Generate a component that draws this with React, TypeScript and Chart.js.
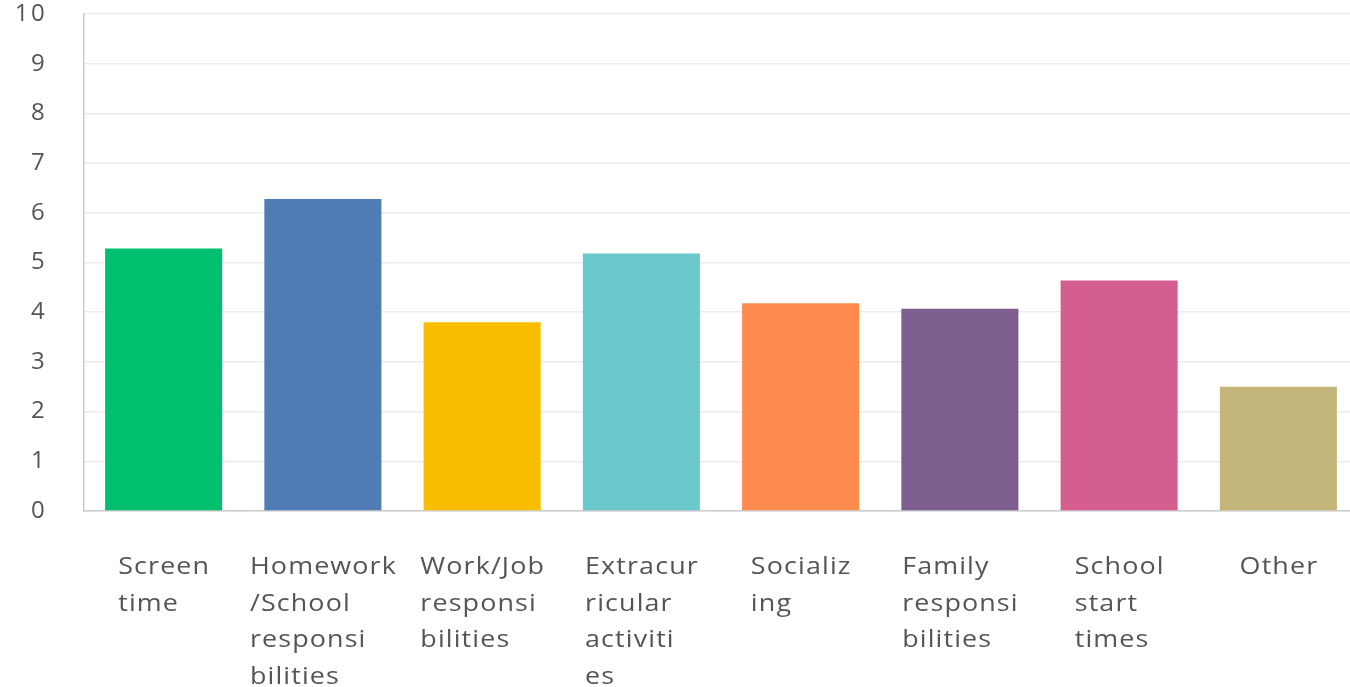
import React, { useEffect, useRef } from "react";
import { Chart, registerables } from "chart.js";

Chart.register(...registerables);

const categories = [
  "Screen time",
  "Homework/School responsibilities",
  "Work/Job responsibilities",
  "Extracurricular activities",
  "Socializing",
  "Family responsibilities",
  "School start times",
  "Other",
];

const labelLines = [
  ["Screen", "time"],
  ["Homework", "/School", "responsi", "bilities"],
  ["Work/Job", "responsi", "bilities"],
  ["Extracur", "ricular", "activiti", "es"],
  ["Socializ", "ing"],
  ["Family", "responsi", "bilities"],
  ["School", "start", "times"],
  ["Other"],
];

const values = [5.28, 6.28, 3.8, 5.18, 4.18, 4.07, 4.64, 2.5];

const barColors = [
  "#00BF6F",
  "#507CB6",
  "#F9BE00",
  "#6BC8CD",
  "#FF8B4F",
  "#7D5E8F",
  "#D45F8F",
  "#C4B67A",
];

const yTicks = [0, 1, 2, 3, 4, 5, 6, 7, 8, 9, 10];

const FONT = '"Open Sans", sans-serif';
const TEXT_COLOR = "#555555";
const Y_SPACING = 2.4;
const X_SPACING = 1;
const X_STRETCH = 1.12;

const labelPlugin = {
  id: "labels",
  beforeDraw(chart: any) {
    (chart.ctx as any).letterSpacing = Y_SPACING + "px";
  },
  afterDraw(chart: any) {
    const ctx = chart.ctx;
    const xScale = chart.scales.x;
    const area = chart.chartArea;
    ctx.save();
    ctx.font = `24px ${FONT}`;
    (ctx as any).letterSpacing = X_SPACING + "px";
    ctx.fillStyle = TEXT_COLOR;
    ctx.textAlign = "left";
    ctx.textBaseline = "alphabetic";
    labelLines.forEach((lines, i) => {
      const cx = xScale.getPixelForValue(i);
      const maxW =
        Math.max(...lines.map((l) => ctx.measureText(l).width - X_SPACING)) * X_STRETCH;
      const x0 = cx - maxW / 2;
      lines.forEach((line, j) => {
        ctx.save();
        ctx.translate(x0, area.bottom + 63 + j * 36.5);
        ctx.scale(X_STRETCH, 1);
        ctx.fillText(line, 0, 0);
        ctx.restore();
      });
    });
    ctx.restore();
  },
};

export default function App() {
  const canvasRef = useRef<HTMLCanvasElement | null>(null);

  useEffect(() => {
    if (!canvasRef.current) return;
    const chart = new Chart(canvasRef.current, {
      type: "bar",
      data: {
        labels: categories,
        datasets: [
          {
            data: values,
            backgroundColor: barColors,
            borderWidth: 0,
            categoryPercentage: 1,
            barPercentage: 0.735,
          },
        ],
      },
      options: {
        responsive: false,
        animation: false,
        layout: { padding: { top: 14, right: 2, bottom: 176, left: 0 } },
        plugins: {
          legend: { display: false },
          tooltip: { enabled: false },
        },
        scales: {
          x: {
            grid: { display: false },
            border: { display: true, color: "#cccccc", width: 1.5 },
            ticks: { display: false },
            afterFit: (scale: any) => {
              scale.height = 0;
              scale.paddingLeft = 0;
              scale.paddingRight = 0;
            },
          },
          y: {
            min: 0,
            max: 10,
            afterBuildTicks: (scale: any) => {
              scale.ticks = yTicks.map((v) => ({ value: v }));
            },
            afterFit: (scale: any) => {
              scale.width = 84;
              scale.paddingTop = 0;
              scale.paddingBottom = 0;
            },
            grid: { color: "#ececec", drawTicks: false, lineWidth: 1.5 },
            border: { display: true, color: "#cccccc", width: 1.5 },
            ticks: {
              padding: 37,
              color: TEXT_COLOR,
              font: { family: FONT, size: 24 },
            },
          },
        },
      },
      plugins: [labelPlugin],
    });
    return () => chart.destroy();
  }, []);

  return (
    <div
      style={{
        position: "fixed",
        top: 0,
        left: 0,
        width: 1350,
        height: 687,
        overflow: "hidden",
        background: "#ffffff",
      }}
    >
      <canvas ref={canvasRef} width={1360} height={687} style={{ display: "block" }} />
    </div>
  );
}
